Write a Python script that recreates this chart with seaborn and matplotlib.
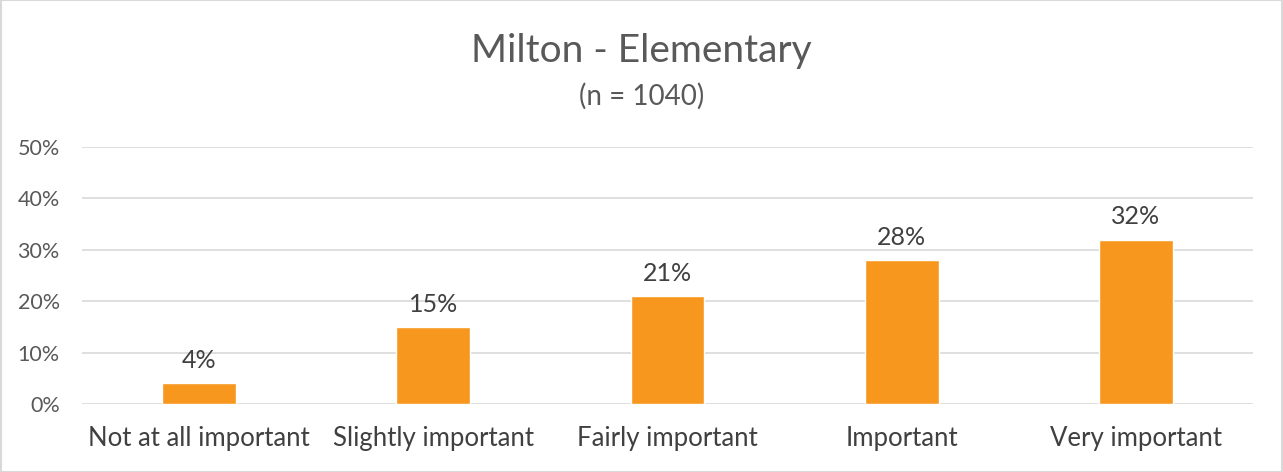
import matplotlib
matplotlib.use("Agg")
import matplotlib.pyplot as plt
import seaborn as sns
import pandas as pd
from matplotlib.patches import Rectangle

# dane z wykresu
categories = ["Not at all important", "Slightly important", "Fairly important", "Important", "Very important"]
values = [0.04, 0.15, 0.21, 0.28, 0.32]
yticks = [0, 0.1, 0.2, 0.3, 0.4, 0.5]
ytick_labels = ["0%", "10%", "20%", "30%", "40%", "50%"]

df = pd.DataFrame({"Category": categories, "Share": values})

sns.set_theme(style="white")
plt.rcParams['font.family'] = ['Lato', 'DejaVu Sans']

fig = plt.figure(figsize=(12.83, 4.72), dpi=100)
ax = fig.add_axes([0.0639, 0.1441, 0.9127, 0.5445])

sns.barplot(data=df, x="Category", y="Share", color="#F7971E", width=0.315, saturation=1, ax=ax, zorder=3)

for i, v in enumerate(values):
    ax.text(i, v + 0.022, f"{round(v * 100)}%", ha="center", va="bottom", fontsize=18, color="#404040")

ax.set_ylim(0, 0.5)
ax.set_yticks(yticks)
ax.set_yticklabels(ytick_labels)
ax.set_xlim(-0.5, 4.5)
ax.yaxis.grid(True, color="#d9d9d9", linewidth=1.2, zorder=0)
ax.set_axisbelow(True)
for s in ax.spines.values():
    s.set_visible(False)
ax.tick_params(axis="y", length=0, labelsize=15.5, labelcolor="#595959", pad=16)
ax.tick_params(axis="x", length=0, labelsize=18.5, labelcolor="#404040", pad=16)
ax.set_xlabel("")
ax.set_ylabel("")

fig.text(0.5, 0.892, "Milton - Elementary", ha="center", va="center", fontsize=28, color="#595959")
fig.text(0.5, 0.795, "(n = 1040)", ha="center", va="center", fontsize=20, color="#595959")

fig.patches.append(Rectangle((0.001, 0.001), 0.998, 0.998, transform=fig.transFigure,
                             fill=False, edgecolor="#d9d9d9", linewidth=1.5))

plt.savefig("out.png", dpi=100)
